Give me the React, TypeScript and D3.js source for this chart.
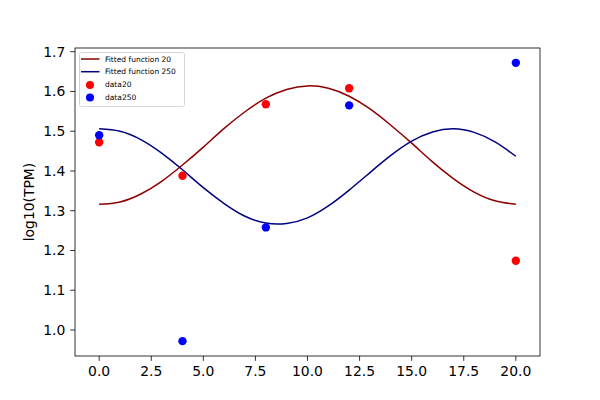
import React from "react";
import * as d3 from "d3";

// measured points
const sampleX = [0, 4, 8, 12, 20];
const data20 = [1.472, 1.388, 1.568, 1.608, 1.174];
const data250 = [1.49, 0.972, 1.258, 1.565, 1.672];

// fitted curves at x = 0..20
const fitX = [0, 1, 2, 3, 4, 5, 6, 7, 8, 9, 10, 11, 12, 13, 14, 15, 16, 17, 18, 19, 20];
const fit20 = [
  1.316, 1.322, 1.342, 1.374, 1.415, 1.46, 1.507, 1.549, 1.583, 1.605, 1.614,
  1.608, 1.588, 1.556, 1.515, 1.47, 1.423, 1.381, 1.347, 1.325, 1.316,
];
const fit250 = [
  1.506, 1.5, 1.479, 1.445, 1.403, 1.358, 1.318, 1.286, 1.269, 1.268, 1.282,
  1.312, 1.352, 1.396, 1.439, 1.475, 1.498, 1.506, 1.497, 1.473, 1.437,
];

const xTicks = [0, 2.5, 5, 7.5, 10, 12.5, 15, 17.5, 20];
const yTicks = [1.0, 1.1, 1.2, 1.3, 1.4, 1.5, 1.6, 1.7];

const legendItems = [
  { label: "Fitted function 20", color: "#8b0000", kind: "line" },
  { label: "Fitted function 250", color: "#000080", kind: "line" },
  { label: "data20", color: "#ff0000", kind: "dot" },
  { label: "data250", color: "#0000ff", kind: "dot" },
];

const W = 600;
const H = 400;
const left = 75;
const right = 540;
const top = 48;
const bottom = 356;
const font = "DejaVu Sans, sans-serif";

export default function App() {
  const x = d3.scaleLinear().domain([-1.16, 21.16]).range([left, right]);
  const y = d3.scaleLinear().domain([0.9346, 1.7093]).range([bottom, top]);

  const line = d3
    .line<number>()
    .x((_, i) => x(fitX[i]))
    .y((d) => y(d))
    .curve(d3.curveNatural);

  const tick = 4.86;

  return (
    <div style={{ position: "absolute", left: 0, top: 0 }}>
      <svg width={W} height={H} style={{ display: "block", background: "#fff" }}>
        <path d={line(fit20) ?? ""} fill="none" stroke="#8b0000" strokeWidth={1.5} />
        <path d={line(fit250) ?? ""} fill="none" stroke="#000080" strokeWidth={1.5} />

        {sampleX.map((v, i) => (
          <circle key={"r" + i} cx={x(v)} cy={y(data20[i])} r={4.2} fill="#ff0000" />
        ))}
        {sampleX.map((v, i) => (
          <circle key={"b" + i} cx={x(v)} cy={y(data250[i])} r={4.2} fill="#0000ff" />
        ))}

        {/* axes frame */}
        <rect
          x={left}
          y={top}
          width={right - left}
          height={bottom - top}
          fill="none"
          stroke="#000"
          strokeWidth={0.8}
        />

        {xTicks.map((t) => (
          <g key={"x" + t} transform={`translate(${x(t)},${bottom})`}>
            <line y2={tick} stroke="#000" strokeWidth={0.8} />
            <text
              y={tick + 4.86 + 10.1}
              textAnchor="middle"
              fontFamily={font}
              fontSize={13.9}
              fill="#000"
            >
              {t.toFixed(1)}
            </text>
          </g>
        ))}

        {yTicks.map((t) => (
          <g key={"y" + t} transform={`translate(${left},${y(t)})`}>
            <line x2={-tick} stroke="#000" strokeWidth={0.8} />
            <text
              x={-tick - 4.86}
              y={5}
              textAnchor="end"
              fontFamily={font}
              fontSize={13.9}
              fill="#000"
            >
              {t.toFixed(1)}
            </text>
          </g>
        ))}

        <text
          transform={`translate(34,${(top + bottom) / 2}) rotate(-90)`}
          textAnchor="middle"
          fontFamily={font}
          fontSize={13.9}
          fill="#000"
        >
          log10(TPM)
        </text>

        {/* legend */}
        <g>
          <rect
            x={79.5}
            y={52.5}
            width={105}
            height={54}
            rx={2}
            fill="#fff"
            fillOpacity={0.8}
            stroke="#cccccc"
            strokeWidth={0.8}
          />
          {legendItems.map((it, i) => {
            const cy = 59 + i * 12.7;
            return (
              <g key={it.label}>
                {it.kind === "line" ? (
                  <line x1={81} x2={99.5} y1={cy} y2={cy} stroke={it.color} strokeWidth={1.5} />
                ) : (
                  <circle cx={90} cy={cy + 0.5} r={4} fill={it.color} />
                )}
                <text x={105} y={cy + 2.7} fontFamily={font} fontSize={7.5} fill="#000">
                  {it.label}
                </text>
              </g>
            );
          })}
        </g>
      </svg>
    </div>
  );
}
